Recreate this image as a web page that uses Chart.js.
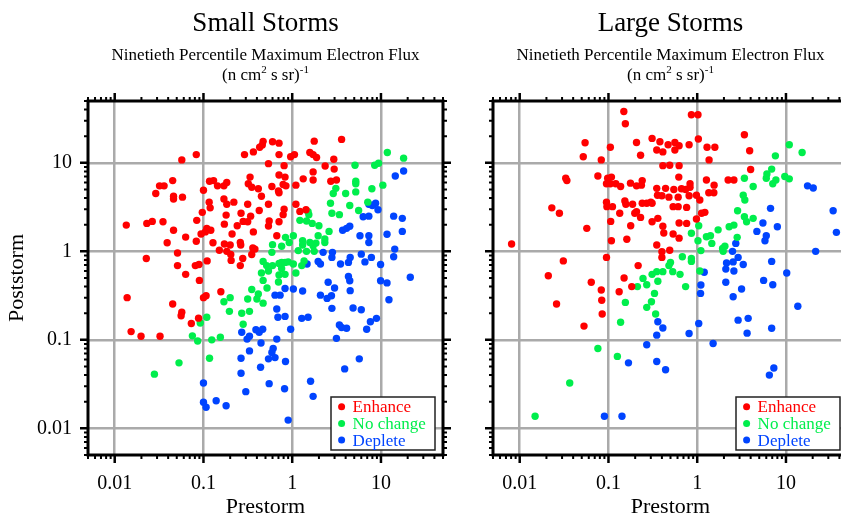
<!DOCTYPE html>
<html>
<head>
<meta charset="utf-8">
<script src="https://cdn.jsdelivr.net/npm/chart.js@4.4.1/dist/chart.umd.min.js"></script>
<style>
  html, body { margin: 0; padding: 0; background: #fff; overflow: hidden; width: 841px; height: 516px; }
  canvas { position: absolute; top: 0; }
  #smallChart { left: 0; }
  #largeChart { left: 405px; }
</style>
</head>
<body>
<canvas id="smallChart" width="460" height="516"></canvas>
<canvas id="largeChart" width="460" height="516"></canvas>
<script>
// Storm flux scatter - prestorm vs poststorm, two panels

const categories = ['Enhance', 'No change', 'Deplete'];
const panelTitles = ['Small Storms', 'Large Storms'];
const tickValues = [0.01, 0.1, 1, 10];
const tickLabels = ['0.01', '0.1', '1', '10'];
const axisMin = 0.005;
const axisMax = 50;

// [prestorm, poststorm]
const smallEnhance = [
  [0.057,10.8],[0.083,12.4],[0.47,17.5],[0.60,17.3],[0.43,15.0],[0.46,15.9],[0.365,13.3],[0.29,12.4],
  [0.71,16.7],[0.54,9.8],[0.71,12.4],[0.045,6.3],[0.032,5.5],[0.036,5.5],[0.029,4.5],[0.046,4.2],
  [0.046,3.9],[0.058,4.1],[0.117,6.2],[0.13,6.3],[0.144,5.5],[0.17,5.5],[0.183,6.0],[0.10,4.9],
  [0.335,6.9],[0.32,5.8],[0.35,5.3],[0.415,5.1],[0.45,4.2],[0.59,5.4],[0.71,4.6],[0.116,3.6],
  [0.119,3.1],[0.097,2.76],[0.17,3.9],[0.183,3.4],[0.22,3.6],[0.315,3.4],[0.54,3.4],[0.425,2.9],
  [0.18,2.57],[0.265,2.7],[0.34,2.5],[0.0135,1.98],[0.023,2.07],[0.0265,2.18],[0.035,2.16],[0.084,2.24],
  [0.172,2.03],[0.24,1.95],[0.28,2.18],[0.315,2.16],[0.365,1.66],[0.55,2.2],[0.54,1.93],[0.71,2.16],
  [0.046,1.73],[0.063,1.45],[0.083,1.3],[0.039,1.25],[0.109,1.82],[0.121,1.73],[0.094,1.57],[0.105,1.66],
  [0.21,1.57],[0.128,1.25],[0.172,1.21],[0.2,1.18],[0.26,1.26],[0.263,1.18],[0.36,1.09],[0.38,1.06],
  [0.67,1.5],[0.151,1.03],[0.183,1.0],[0.203,0.92],[0.205,0.79],[0.277,0.83],[0.35,0.92],[0.051,0.96],
  [0.0227,0.83],[0.051,0.69],[0.081,0.69],[0.089,0.71],[0.11,0.78],[0.26,0.69],[0.063,0.55],[0.090,0.47],
  [0.0138,0.30],[0.045,0.254],[0.057,0.205],[0.056,0.187],[0.073,0.153],[0.088,0.176],[0.10,0.30],[0.107,0.315],
  [0.157,0.35],[0.0153,0.124],[0.0198,0.11],[0.0324,0.11],[1.77,17.6],[3.6,18.4],[0.96,11.7],[1.06,12.4],
  [1.58,13.1],[1.72,12.4],[1.88,11.5],[0.81,9.3],[2.35,9.2],[2.94,11.0],[2.97,8.5],[1.72,7.9],
  [0.71,7.3],[0.83,6.9],[0.79,5.7],[0.85,5.5],[0.70,4.8],[1.33,6.6],[1.1,5.6],[1.72,6.4],
  [2.72,6.2],[3.15,6.4],[1.1,3.4],[1.22,2.83],[1.43,2.95],[0.81,3.0],[0.79,2.6]
];
const smallNoChange = [
  [0.60,1.19],[0.59,0.975],[0.47,0.77],[0.515,0.69],[0.60,0.69],[0.71,0.73],[0.54,0.60],[0.45,0.57],
  [0.47,0.47],[0.71,0.54],[0.70,0.45],[0.35,0.37],[0.415,0.33],[0.315,0.29],[0.40,0.29],[0.47,0.26],
  [0.52,0.385],[0.17,0.27],[0.20,0.30],[0.196,0.21],[0.27,0.20],[0.33,0.21],[0.28,0.15],[0.109,0.18],
  [0.092,0.155],[0.075,0.111],[0.086,0.097],[0.124,0.10],[0.155,0.107],[0.053,0.055],[0.117,0.062],[0.028,0.041],
  [11.8,13.1],[18.0,11.3],[5.1,9.4],[8.5,9.4],[9.4,9.9],[5.2,6.2],[5.2,5.8],[10.5,5.6],
  [7.9,5.1],[3.1,5.15],[2.9,4.5],[4.0,4.5],[5.2,4.7],[2.7,3.5],[4.45,3.3],[5.6,2.9],
  [7.1,3.6],[2.8,2.7],[3.4,2.6],[1.51,2.8],[1.54,2.6],[1.22,2.24],[1.45,2.2],[1.68,2.07],
  [2.0,1.95],[2.6,1.68],[0.84,1.44],[1.03,1.5],[1.96,1.5],[2.33,1.38],[2.33,1.26],[0.76,1.14],
  [0.925,1.26],[1.31,1.32],[1.31,1.18],[1.58,1.26],[1.72,1.16],[1.85,1.24],[1.77,1.0],[1.45,1.0],
  [1.17,1.02],[0.76,0.75],[0.83,0.75],[0.90,0.76],[1.03,0.72],[1.28,0.69],[1.36,0.78],[0.83,0.55],
  [0.76,0.64],[1.1,0.57]
];
const smallDeplete = [
  [0.64,0.32],[0.67,0.223],[0.69,0.18],[0.27,0.122],[0.39,0.13],[0.425,0.122],[0.465,0.132],[0.31,0.102],
  [0.33,0.11],[0.67,0.102],[0.445,0.092],[0.33,0.075],[0.61,0.080],[0.59,0.072],[0.54,0.061],[0.265,0.062],
  [0.44,0.049],[0.265,0.042],[0.55,0.032],[0.30,0.026],[0.10,0.0325],[0.10,0.0197],[0.107,0.0173],[0.139,0.0205],
  [0.18,0.018],[14.5,7.1],[18.0,8.1],[7.3,3.4],[8.7,3.5],[8.0,3.3],[9.25,2.95],[7.3,2.5],
  [6.3,2.46],[13.9,2.5],[17.4,2.36],[17.4,1.68],[11.7,1.56],[3.7,1.73],[4.45,1.92],[4.1,1.82],
  [5.8,1.5],[7.3,1.5],[7.3,1.26],[14.3,1.06],[13.9,0.87],[2.23,0.975],[2.84,0.975],[2.8,0.855],
  [6.0,0.93],[7.8,0.855],[1.47,0.72],[1.96,0.77],[2.08,0.72],[3.5,0.72],[4.3,0.75],[4.5,0.855],
  [6.6,0.76],[9.9,0.71],[0.83,0.38],[1.03,0.375],[1.31,0.356],[0.73,0.32],[2.54,0.447],[3.0,0.385],
  [4.3,0.52],[4.45,0.466],[4.5,0.36],[9.9,0.466],[11.7,0.44],[21.4,0.51],[2.08,0.32],[2.47,0.294],
  [2.77,0.315],[2.8,0.227],[12.3,0.284],[0.83,0.184],[1.28,0.175],[1.51,0.18],[0.96,0.132],[4.85,0.229],
  [6.0,0.219],[3.4,0.147],[3.6,0.138],[4.1,0.135],[3.15,0.104],[7.6,0.16],[8.9,0.175],[6.9,0.132],
  [0.64,0.063],[0.84,0.057],[5.7,0.061],[3.9,0.047],[0.82,0.028],[1.61,0.034],[1.72,0.023],[0.90,0.0124]
];

const largeEnhance = [
  [0.149,38],[0.155,27.7],[0.0545,16.9],[0.105,15.0],[0.052,11.7],[0.083,10.8],[0.207,17],[0.31,18.9],
  [0.38,17.3],[0.23,12.2],[0.35,14.0],[0.033,6.7],[0.034,6.3],[0.076,7.1],[0.098,6.7],[0.108,6.9],
  [0.095,5.8],[0.105,5.8],[0.121,5.8],[0.137,5.4],[0.177,5.9],[0.207,5.5],[0.24,6.3],[0.235,5.6],
  [0.35,5.15],[0.357,4.3],[0.095,3.6],[0.096,3.2],[0.111,3.2],[0.153,3.7],[0.157,3.4],[0.187,3.4],
  [0.24,3.5],[0.27,3.5],[0.31,3.5],[0.30,3.6],[0.023,3.1],[0.028,2.7],[0.134,2.7],[0.198,2.7],
  [0.207,2.8],[0.23,2.42],[0.36,2.36],[0.106,2.18],[0.178,1.95],[0.31,2.16],[0.057,1.82],[0.108,1.32],
  [0.161,1.37],[0.35,1.18],[0.0081,1.21],[0.031,0.78],[0.095,0.855],[0.216,0.69],[0.021,0.53],[0.064,0.447],
  [0.15,0.50],[0.083,0.366],[0.132,0.35],[0.183,0.40],[0.084,0.28],[0.026,0.254],[0.085,0.196],[0.053,0.143],
  [0.86,35],[1.02,35],[3.4,20.8],[1.03,18.6],[0.47,16.0],[0.56,17],[0.625,15.6],[0.81,16],
  [1.29,15],[1.58,15],[0.41,13.3],[0.56,14],[3.9,13.7],[1.36,10.8],[0.41,9.3],[0.49,9.4],
  [0.625,9.3],[4.0,8.4],[0.62,6.9],[0.83,5.8],[0.83,5.3],[1.27,6.4],[1.55,5.6],[1.35,4.6],
  [1.54,4.6],[2.23,6.4],[2.59,6.4],[0.44,5.15],[0.545,5.0],[0.665,5.1],[0.74,5.0],[0.40,4.25],
  [0.48,4.1],[0.61,4.1],[0.81,4.25],[0.98,4.3],[1.07,3.8],[0.535,3.2],[0.61,3.2],[0.76,3.14],
  [1.12,2.7],[1.22,2.76],[0.98,2.32],[0.41,1.92],[0.42,1.61],[0.625,2.09],[0.76,2.07],[0.535,1.57],
  [0.625,1.41],[0.40,0.99],[0.49,1.03],[0.40,0.855]
];
const largeNoChange = [
  [10.9,16],[15.2,13.1],[7.6,12.0],[6.9,8.5],[6.1,7.5],[6.0,6.7],[7.7,6.4],[7.1,5.8],
  [9.7,7.0],[10.9,6.6],[3.4,6.7],[4.27,5.4],[3.3,4.3],[3.44,3.8],[2.85,2.88],[3.4,2.46],
  [3.6,2.16],[4.27,2.36],[1.04,1.95],[0.86,1.6],[1.72,1.75],[2.29,1.9],[2.59,1.98],[1.27,1.46],
  [1.41,1.5],[1.02,1.32],[1.46,1.23],[2.82,1.44],[1.93,1.08],[2.05,1.14],[1.96,1.0],[1.1,1.02],
  [0.68,0.87],[0.86,0.83],[0.86,0.77],[0.50,0.75],[0.48,0.69],[0.41,0.59],[0.53,0.59],[0.64,0.55],
  [1.07,0.60],[0.74,0.40],[0.212,0.40],[0.245,0.495],[0.31,0.55],[0.35,0.59],[0.27,0.42],[0.36,0.46],
  [0.33,0.335],[0.305,0.27],[0.27,0.233],[0.34,0.196],[0.155,0.265],[0.137,0.158],[0.076,0.080],[0.126,0.065],
  [0.0366,0.0325],[0.0149,0.0137]
];
const largeDeplete = [
  [17.5,5.5],[20.3,5.2],[34,2.88],[37,1.64],[6.7,3.06],[5.5,2.09],[8.0,1.9],[4.7,1.68],
  [6.0,1.5],[5.8,1.32],[2.72,1.23],[2.5,1.0],[21.6,1.0],[2.89,0.855],[2.14,0.74],[2.54,0.76],
  [3.3,0.71],[6.9,0.77],[2.1,0.63],[2.59,0.60],[1.2,0.58],[1.1,0.416],[1.09,0.335],[2.1,0.447],
  [3.16,0.375],[2.54,0.307],[5.6,0.47],[7.1,0.42],[10.2,0.57],[13.6,0.24],[0.36,0.16],[0.41,0.136],
  [0.35,0.113],[0.81,0.118],[1.04,0.153],[2.89,0.167],[3.75,0.175],[3.65,0.119],[6.9,0.135],[1.51,0.091],
  [0.27,0.088],[0.168,0.055],[0.35,0.057],[0.44,0.046],[7.3,0.048],[6.5,0.040],[0.090,0.0137],[0.142,0.0137]
];

const seriesColors = ['#ff0000', '#00ee4c', '#0044ff'];
const serif = "'Liberation Serif', 'Times New Roman', serif";
const unitParts = [['(n cm', false], ['2', true], [' s sr)', false], ['-1', true]];

Chart.defaults.font.family = serif;
Chart.defaults.color = '#000';

function isDecade(v) {
  return tickValues.includes(v);
}

// minor ticks 1..9 in every decade, like the old IDL plots
function buildLogTicks(scale) {
  const ticks = [];
  for (let e = -3; e <= 1; e++) {
    for (let m = 1; m <= 9; m++) {
      const v = +(m * Math.pow(10, e)).toPrecision(3);
      if (v >= axisMin && v <= axisMax) ticks.push({ value: v });
    }
  }
  scale.ticks = ticks;
}

function tickLabel(value) {
  const i = tickValues.indexOf(value);
  return i >= 0 ? tickLabels[i] : '';
}

// Frame with outward ticks on all four sides
const framePlugin = {
  id: 'frame',
  afterDraw(chart) {
    const { ctx, chartArea: a, scales: { x, y } } = chart;
    ctx.save();
    ctx.strokeStyle = '#000';
    x.ticks.forEach(t => {
      const px = x.getPixelForValue(t.value);
      const major = isDecade(t.value);
      const len = major ? 8 : 4;
      ctx.lineWidth = major ? 2.5 : 2;
      ctx.beginPath();
      ctx.moveTo(px, a.top); ctx.lineTo(px, a.top - len);
      ctx.moveTo(px, a.bottom); ctx.lineTo(px, a.bottom + len);
      ctx.stroke();
    });
    y.ticks.forEach(t => {
      const py = y.getPixelForValue(t.value);
      const major = isDecade(t.value);
      const len = major ? 8 : 4;
      ctx.lineWidth = major ? 2.5 : 2;
      ctx.beginPath();
      ctx.moveTo(a.left, py); ctx.lineTo(a.left - len, py);
      ctx.moveTo(a.right, py); ctx.lineTo(a.right + len, py);
      ctx.stroke();
    });
    ctx.lineWidth = 3;
    ctx.strokeRect(a.left, a.top, a.right - a.left, a.bottom - a.top);
    ctx.restore();
  }
};

// Boxed legend in the lower right corner, text in series colour
const legendPlugin = {
  id: 'boxLegend',
  afterDraw(chart) {
    const { ctx, chartArea: a } = chart;
    const w = 104, h = 53;
    const bx = a.right - 8 - w;
    const by = a.bottom - 5 - h;
    ctx.save();
    ctx.fillStyle = '#fff';
    ctx.fillRect(bx, by, w, h);
    ctx.strokeStyle = '#222';
    ctx.lineWidth = 1.5;
    ctx.strokeRect(bx, by, w, h);
    ctx.font = '17px ' + serif;
    ctx.textAlign = 'left';
    ctx.textBaseline = 'middle';
    chart.data.datasets.forEach((ds, i) => {
      const cy = by + 9.7 + i * 16.7;
      ctx.fillStyle = ds.backgroundColor;
      ctx.beginPath();
      ctx.arc(bx + 10.6, cy, 3.5, 0, Math.PI * 2);
      ctx.fill();
      ctx.fillText(ds.label, bx + 21.6, cy + 1);
    });
    ctx.restore();
  }
};

// Panel heading: title, subtitle and units with superscripts
const headingPlugin = {
  id: 'heading',
  afterDraw(chart, args, opts) {
    const { ctx, chartArea: a } = chart;
    const cx = (a.left + a.right) / 2;
    ctx.save();
    ctx.fillStyle = '#000';
    ctx.textAlign = 'center';
    ctx.textBaseline = 'alphabetic';
    ctx.font = '27px ' + serif;
    ctx.fillText(opts.title, cx, 31);
    ctx.font = '17px ' + serif;
    ctx.fillText('Ninetieth Percentile Maximum Electron Flux', cx, 60);

    const size = 17, supSize = 11;
    let total = 0;
    unitParts.forEach(([t, sup]) => {
      ctx.font = (sup ? supSize : size) + 'px ' + serif;
      total += ctx.measureText(t).width;
    });
    let x = cx - total / 2;
    ctx.textAlign = 'left';
    unitParts.forEach(([t, sup]) => {
      ctx.font = (sup ? supSize : size) + 'px ' + serif;
      ctx.fillText(t, x, sup ? 73 : 80);
      x += ctx.measureText(t).width;
    });
    ctx.restore();
  }
};

function makeDatasets(groups) {
  return groups.map((pts, i) => ({
    label: categories[i],
    data: pts.map(p => ({ x: p[0], y: p[1] })),
    backgroundColor: seriesColors[i],
    borderWidth: 0,
    pointRadius: 3.7
  }));
}

function gridColor(ctx) {
  return ctx.tick && isDecade(ctx.tick.value) ? '#aaaaaa' : 'rgba(0,0,0,0)';
}

function makeChart(canvasId, title, groups, showYLabels) {
  return new Chart(document.getElementById(canvasId), {
    type: 'scatter',
    data: { datasets: makeDatasets(groups) },
    plugins: [framePlugin, headingPlugin, legendPlugin],
    options: {
      responsive: false,
      animation: false,
      events: [],
      layout: { padding: { top: 101, right: 16, left: 0, bottom: 0 } },
      plugins: {
        legend: { display: false },
        tooltip: { enabled: false },
        heading: { title: title }
      },
      scales: {
        x: {
          type: 'logarithmic',
          position: 'bottom',
          min: axisMin,
          max: axisMax,
          afterBuildTicks: buildLogTicks,
          afterFit: s => { s.height = 61; },
          grid: { color: gridColor, lineWidth: 2.5, drawTicks: false },
          border: { display: false },
          ticks: {
            autoSkip: false,
            maxRotation: 0,
            padding: 17,
            font: { size: 20 },
            color: '#000',
            callback: tickLabel
          },
          title: {
            display: true,
            text: 'Prestorm',
            font: { size: 22, lineHeight: 0.8 },
            color: '#000',
            padding: 0
          }
        },
        y: {
          type: 'logarithmic',
          position: 'left',
          min: axisMin,
          max: axisMax,
          afterBuildTicks: buildLogTicks,
          afterFit: s => { s.width = 88; },
          grid: { color: gridColor, lineWidth: 2.5, drawTicks: false },
          border: { display: false },
          ticks: {
            display: showYLabels,
            autoSkip: false,
            padding: 16,
            font: { size: 20 },
            color: '#000',
            callback: tickLabel
          },
          title: {
            display: showYLabels,
            text: 'Poststorm',
            font: { size: 22 },
            color: '#000',
            padding: { top: 4, bottom: 0 }
          }
        }
      }
    }
  });
}

document.addEventListener('DOMContentLoaded', () => {
  makeChart('smallChart', panelTitles[0], [smallEnhance, smallNoChange, smallDeplete], true);
  makeChart('largeChart', panelTitles[1], [largeEnhance, largeNoChange, largeDeplete], false);
});
</script>
</body>
</html>
